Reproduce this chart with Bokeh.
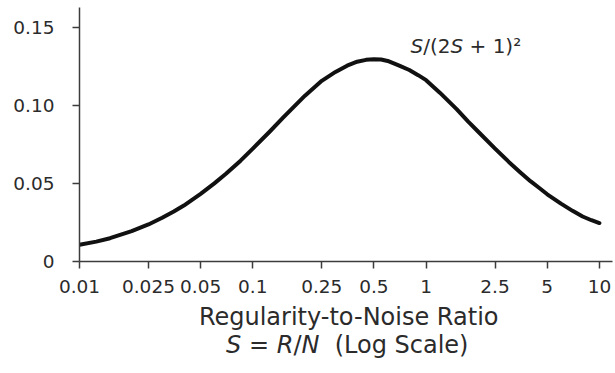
from bokeh.plotting import figure
from bokeh.layouts import column
from bokeh.models import FixedTicker, Range1d, ColumnDataSource
from bokeh.core.properties import value
from bokeh.embed import file_html
from bokeh.resources import INLINE

# ---- data ----
s_values = [0.01, 0.0125, 0.015, 0.02, 0.025, 0.03, 0.035, 0.04, 0.05, 0.06, 0.07, 0.085,
            0.1, 0.125, 0.15, 0.2, 0.25, 0.3, 0.35, 0.4, 0.45, 0.5, 0.55, 0.6, 0.7, 0.8,
            0.9, 1.0, 1.2, 1.5, 1.75, 2.0, 2.5, 3.0, 3.5, 4.0, 4.5, 5.0, 6.0, 7.0, 8.0,
            9.0, 10.0]
ratio_values = [0.0107, 0.0127, 0.0149, 0.0194, 0.0237, 0.0280, 0.0320, 0.0358, 0.0433,
                0.0500, 0.0561, 0.0645, 0.0722, 0.0830, 0.0922, 0.1061, 0.1156, 0.1213,
                0.1253, 0.1278, 0.1290, 0.1294, 0.1292, 0.1283, 0.1253, 0.1225, 0.1192,
                0.1160, 0.1080, 0.0975, 0.0895, 0.0830, 0.0722, 0.0637, 0.0570, 0.0514,
                0.0470, 0.0430, 0.0370, 0.0324, 0.0288, 0.0264, 0.0246]
x_ticks = [0.01, 0.025, 0.05, 0.1, 0.25, 0.5, 1, 2.5, 5, 10]
x_tick_labels = ["0.01", "0.025", "0.05", "0.1", "0.25", "0.5", "1", "2.5", "5", "10"]
y_ticks = [0, 0.05, 0.1, 0.15]
y_tick_labels = ["0", "0.05", "0.10", "0.15"]

FONT = "DejaVu Sans"
TEXT_COLOR = "#2b2b2b"
AXIS_COLOR = "#3c3c3c"

W, H = 615, 373
MAIN_H = 300
LEFT, RIGHT, TOP = 79, 3, 7
FRAME_BOTTOM = 261

p = figure(width=W, height=MAIN_H, x_axis_type="log", output_backend="svg",
           toolbar_location=None, min_border_left=LEFT, min_border_right=RIGHT,
           min_border_top=TOP, min_border_bottom=MAIN_H - FRAME_BOTTOM,
           x_range=Range1d(0.01, 11.9), y_range=Range1d(0, 0.1625))
p.outline_line_color = None
p.grid.visible = False
p.background_fill_color = "white"
p.border_fill_color = "white"

src = ColumnDataSource(dict(s=s_values, r=ratio_values))
p.line("s", "r", source=src, line_width=4, line_color="#111111",
       line_join="round", line_cap="round")

for ax in (p.xaxis[0], p.yaxis[0]):
    ax.axis_line_color = AXIS_COLOR
    ax.axis_line_width = 1.5
    ax.major_tick_line_color = AXIS_COLOR
    ax.major_tick_line_width = 1.5
    ax.major_tick_out = 7
    ax.major_tick_in = 0
    ax.minor_tick_line_color = None
    ax.major_label_text_font = FONT
    ax.major_label_text_font_size = "18.5px"
    ax.major_label_text_color = TEXT_COLOR

p.xaxis[0].ticker = FixedTicker(ticks=x_ticks, minor_ticks=[])
p.xaxis[0].major_label_overrides = {t: l for t, l in zip(x_ticks, x_tick_labels)}
p.xaxis[0].major_label_standoff = 11
p.yaxis[0].ticker = FixedTicker(ticks=y_ticks, minor_ticks=[])
p.yaxis[0].major_label_overrides = {t: l for t, l in zip(y_ticks, y_tick_labels)}
p.yaxis[0].major_label_standoff = 18

# advance widths (em) of DejaVu Sans glyphs, used to lay out mixed italic text
ADV = {"S": .635, "=": .838, "R": .695, "/": .337, "N": .748, "(": .390, ")": .390,
       "L": .557, "o": .612, "g": .635, "c": .550, "a": .613, "l": .278, "e": .615,
       " ": .318, "1": .636, "2": .636, "+": .838, "\u00b2": .401, "u": .634,
       "r": .411, "i": .278, "t": .392, "y": .592, "-": .361, "s": .521}


def width_of(txt, size):
    return sum(ADV.get(ch, .6) for ch in txt) * size


def layout_pieces(pieces, size, x_left=None, x_center=None):
    total = sum(width_of(t, size) for t, _ in pieces)
    x = x_left if x_left is not None else x_center - total / 2
    out = []
    for txt, italic in pieces:
        if txt.strip():
            out.append((x, txt, "italic" if italic else "normal"))
        x += width_of(txt, size)
    return out


# annotation inside the plot (mixed italic), placed in screen pixels via text offsets
ANN = 20
ann = layout_pieces([("S", True), ("/(2", False), ("S", True), (" ", False), ("+", False),
                     (" ", False), ("1)\u00b2", False)], ANN, x_left=410)
for x, txt, style in ann:
    p.text(x=[0.01], y=[0.1625], text=[txt], x_offset=x - LEFT, y_offset=45 - TOP,
           text_font=value(FONT), text_font_size=f"{ANN}px", text_font_style=style,
           text_color=TEXT_COLOR, text_align="left", text_baseline="alphabetic")

# x-axis title, two lines, drawn in a strip below the chart
strip = figure(width=W, height=H - MAIN_H, output_backend="svg", toolbar_location=None,
               x_range=Range1d(LEFT, W - RIGHT), y_range=Range1d(H, MAIN_H),
               x_axis_location=None, y_axis_location=None,
               min_border_left=LEFT, min_border_right=RIGHT,
               min_border_top=0, min_border_bottom=0)
strip.outline_line_color = None
strip.grid.visible = False
strip.background_fill_color = "white"
strip.border_fill_color = "white"

TITLE = 24
lines = [
    (layout_pieces([("Regularity-to-Noise Ratio", False)], TITLE, x_center=349), 316),
    (layout_pieces([("S", True), (" ", False), ("=", False), (" ", False), ("R", True),
                    ("/", False), ("N", True), (" ", False), (" ", False),
                    ("(Log Scale)", False)], TITLE, x_center=347), 344),
]
for pieces, y_base in lines:
    for x, txt, style in pieces:
        strip.text(x=[x], y=[y_base], text=[txt], text_font=value(FONT),
                   text_font_size=f"{TITLE}px", text_font_style=style,
                   text_color=TEXT_COLOR, text_align="left", text_baseline="alphabetic")

layout = column(p, strip, spacing=0)
open("out.html", "w").write(file_html(layout, INLINE))
